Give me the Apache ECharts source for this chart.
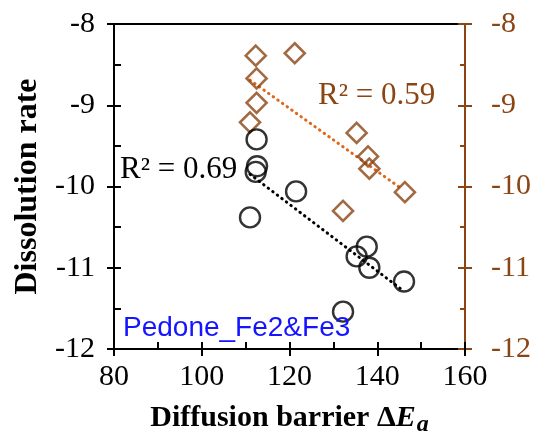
<!DOCTYPE html>
<html>
<head>
<meta charset="utf-8">
<script src="https://cdn.jsdelivr.net/npm/echarts@6/dist/echarts.min.js"></script>
<style>html,body{margin:0;padding:0;background:#fff}#c{width:534px;height:434px}</style>
</head>
<body>
<div id="c"></div>
<script>
// ---- data ----
const circleX = [112.5, 112.6, 112.3, 111.0, 121.5, 137.6, 135.3, 138.2, 146.1, 132.2];
const circleY = [-9.42, -9.75, -9.82, -10.38, -10.06, -10.74, -10.86, -11.00, -11.17, -11.54];
const diamondX = [112.3, 121.2, 112.5, 112.5, 111.0, 135.3, 137.9, 138.2, 146.3, 132.2];
const diamondY = [-8.39, -8.36, -8.67, -8.97, -9.21, -9.34, -9.63, -9.78, -10.07, -10.30];
const fitBlackX = [111.0, 145.6];
const fitBlackY = [-9.85, -11.27];
const fitBrownX = [111.0, 145.6];
const fitBrownY = [-8.69, -10.03];
const xTicks = [80, 100, 120, 140, 160];
const yTicks = [-12, -11, -10, -9, -8];
const r2Black = 'R\u00B2 = 0.69';
const r2Brown = 'R\u00B2 = 0.59';
const datasetLabel = 'Pedone_Fe2&Fe3';
const xTitle = ['Diffusion barrier \u0394', 'E', 'a'];
const yTitle = 'Dissolution rate';

const zip = (a, b) => a.map((v, i) => [v, b[i]]);
const BROWN = '#8B4513';
const serif = '"Liberation Serif", "Times New Roman", serif';

const xMin = xTicks[0], xMax = xTicks[xTicks.length - 1], xInt = xTicks[1] - xTicks[0];
const yMin = yTicks[0], yMax = yTicks[yTicks.length - 1], yInt = yTicks[1] - yTicks[0];

function xAx(extra) {
  return Object.assign({
    type: 'value', min: xMin, max: xMax, interval: xInt, position: 'bottom',
    splitLine: { show: false },
    axisLine: { show: true, onZero: false, lineStyle: { color: '#000', width: 2 } },
    axisTick: { show: false }, axisLabel: { show: false }, minorTick: { show: false }
  }, extra);
}
function yAx(extra) {
  return Object.assign({
    type: 'value', min: yMin, max: yMax, interval: yInt, position: 'left',
    splitLine: { show: false },
    axisLine: { show: true, onZero: false, lineStyle: { color: '#000', width: 2 } },
    axisTick: { show: false }, axisLabel: { show: false }, minorTick: { show: false }
  }, extra);
}

const chart = echarts.init(document.getElementById('c'), null, { renderer: 'canvas' });
chart.setOption({
  animation: false,
  backgroundColor: '#fff',
  grid: { left: 114, right: 69, top: 24, bottom: 85, containLabel: false, outerBoundsMode: 'none' },
  xAxis: [
    xAx({
      axisTick: { show: true, inside: true, length: 7, lineStyle: { color: '#000', width: 2 } },
      minorTick: { show: true, splitNumber: 2, length: 7, lineStyle: { color: '#000', width: 2 } },
      axisLabel: { show: true, color: '#000', fontFamily: serif, fontSize: 30, margin: 13 },
      name: '{n|' + xTitle[0] + '}{e|' + xTitle[1] + '}{s|' + xTitle[2] + '}',
      nameLocation: 'middle', nameGap: 50,
      nameTextStyle: {
        rich: {
          n: { fontFamily: serif, fontWeight: 'bold', fontSize: 30, color: '#000' },
          e: { fontFamily: serif, fontWeight: 'bold', fontStyle: 'italic', fontSize: 30, color: '#000' },
          s: { fontFamily: serif, fontWeight: 'bold', fontStyle: 'italic', fontSize: 24, color: '#000', padding: [14, 0, 0, 1] }
        }
      }
    }),
    xAx({ axisLine: { show: false }, axisTick: { show: true, inside: false, length: 7, lineStyle: { color: '#000', width: 2 } } }),
    xAx({ position: 'top' })
  ],
  yAxis: [
    yAx({
      axisTick: { show: true, inside: true, length: 7, lineStyle: { color: '#000', width: 2 } },
      minorTick: { show: true, splitNumber: 2, length: 7, lineStyle: { color: '#000', width: 2 } },
      axisLabel: { show: true, color: '#000', fontFamily: serif, fontSize: 30, margin: 19 },
      name: yTitle, nameLocation: 'middle', nameGap: 68,
      nameTextStyle: { fontFamily: serif, fontWeight: 'bold', fontSize: 32, color: '#000' }
    }),
    yAx({ axisLine: { show: false }, axisTick: { show: true, inside: false, length: 7, lineStyle: { color: '#000', width: 2 } } }),
    yAx({
      position: 'right',
      axisLine: { show: true, onZero: false, lineStyle: { color: BROWN, width: 2 } },
      axisTick: { show: true, inside: true, length: 7, lineStyle: { color: BROWN, width: 2 } },
      minorTick: { show: true, splitNumber: 2, length: 5, lineStyle: { color: BROWN, width: 2 } },
      axisLabel: { show: true, color: BROWN, fontFamily: serif, fontSize: 30, margin: 26 }
    }),
    yAx({
      position: 'right', axisLine: { show: false },
      axisTick: { show: true, inside: false, length: 7, lineStyle: { color: BROWN, width: 2 } }
    })
  ],
  series: [
    {
      type: 'line', xAxisIndex: 0, yAxisIndex: 2, data: zip(fitBrownX, fitBrownY),
      showSymbol: false, silent: true,
      lineStyle: { color: '#E0661A', width: 3, type: [0.5, 5.2], cap: 'round' }, z: 2
    },
    {
      type: 'line', xAxisIndex: 0, yAxisIndex: 0, data: zip(fitBlackX, fitBlackY),
      showSymbol: false, silent: true,
      lineStyle: { color: '#000', width: 3, type: [0.5, 5.2], cap: 'round' }, z: 2
    },
    {
      type: 'scatter', xAxisIndex: 0, yAxisIndex: 2, data: zip(diamondX, diamondY),
      symbol: 'diamond', symbolSize: 20,
      itemStyle: { color: 'rgba(0,0,0,0)', borderColor: '#8B4513', borderWidth: 2.6 }, z: 3
    },
    {
      type: 'scatter', xAxisIndex: 0, yAxisIndex: 0, data: zip(circleX, circleY),
      symbol: 'circle', symbolSize: 20,
      itemStyle: { color: 'rgba(0,0,0,0)', borderColor: '#000', borderWidth: 2.4 }, z: 4
    }
  ],
  graphic: [
    { type: 'text', left: 120, top: 154, z: 10,
      style: { text: r2Black, fontFamily: serif, fontSize: 31, fill: '#000' } },
    { type: 'text', left: 318, top: 80, z: 10,
      style: { text: r2Brown, fontFamily: serif, fontSize: 31, fill: BROWN } },
    { type: 'text', left: 123, top: 314, z: 10,
      style: { text: datasetLabel, fontFamily: '"Liberation Sans", Arial, sans-serif', fontSize: 28, fill: '#1414FF' } }
  ]
});
</script>
</body>
</html>
